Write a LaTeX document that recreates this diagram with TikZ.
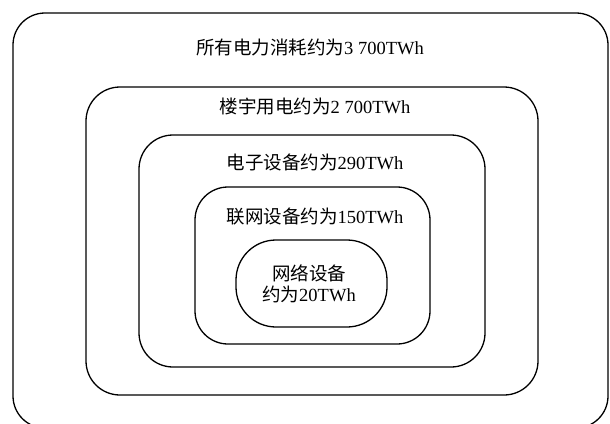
\documentclass[tikz,border=0pt]{standalone}
\usepackage{fontspec}
\setmainfont{Liberation Serif}
\newfontfamily\cjk{Noto Sans CJK SC}
\begin{document}
\begin{tikzpicture}[x=1pt,y=-1pt,
  box/.style={draw=black, line width=1.3pt, rectangle, inner sep=0pt},
  lbl/.style={font=\fontsize{18.5}{23}\selectfont, inner sep=0pt, align=center}]
\useasboundingbox (0,0) rectangle (610,423);
\node[box, minimum width=595pt, minimum height=415pt, rounded corners=32pt] (all) at (310.5,220.5) {};
\node[box, minimum width=452pt, minimum height=308pt, rounded corners=34pt] (bld) at (312,241) {};
\node[box, minimum width=346pt, minimum height=232pt, rounded corners=34pt] (elec) at (312,251) {};
\node[box, minimum width=235pt, minimum height=157pt, rounded corners=33pt] (conn) at (312.5,265.5) {};
\node[box, minimum width=151pt, minimum height=87pt, rounded corners=40pt] (net) at (311.5,283.5) {};
\node[lbl] (t1) at (310,47) {{\cjk 所有电力消耗约为}3 700TWh};
\node[lbl] (t2) at (315,107) {{\cjk 楼宇用电约为}2 700TWh};
\node[lbl] (t3) at (315,162) {{\cjk 电子设备约为}290TWh};
\node[lbl] (t4) at (315,217) {{\cjk 联网设备约为}150TWh};
\node[lbl] (t5) at (309,284) {{\cjk 网络设备}\\[-2pt]{\cjk 约为}20TWh};
\end{tikzpicture}
\end{document}
